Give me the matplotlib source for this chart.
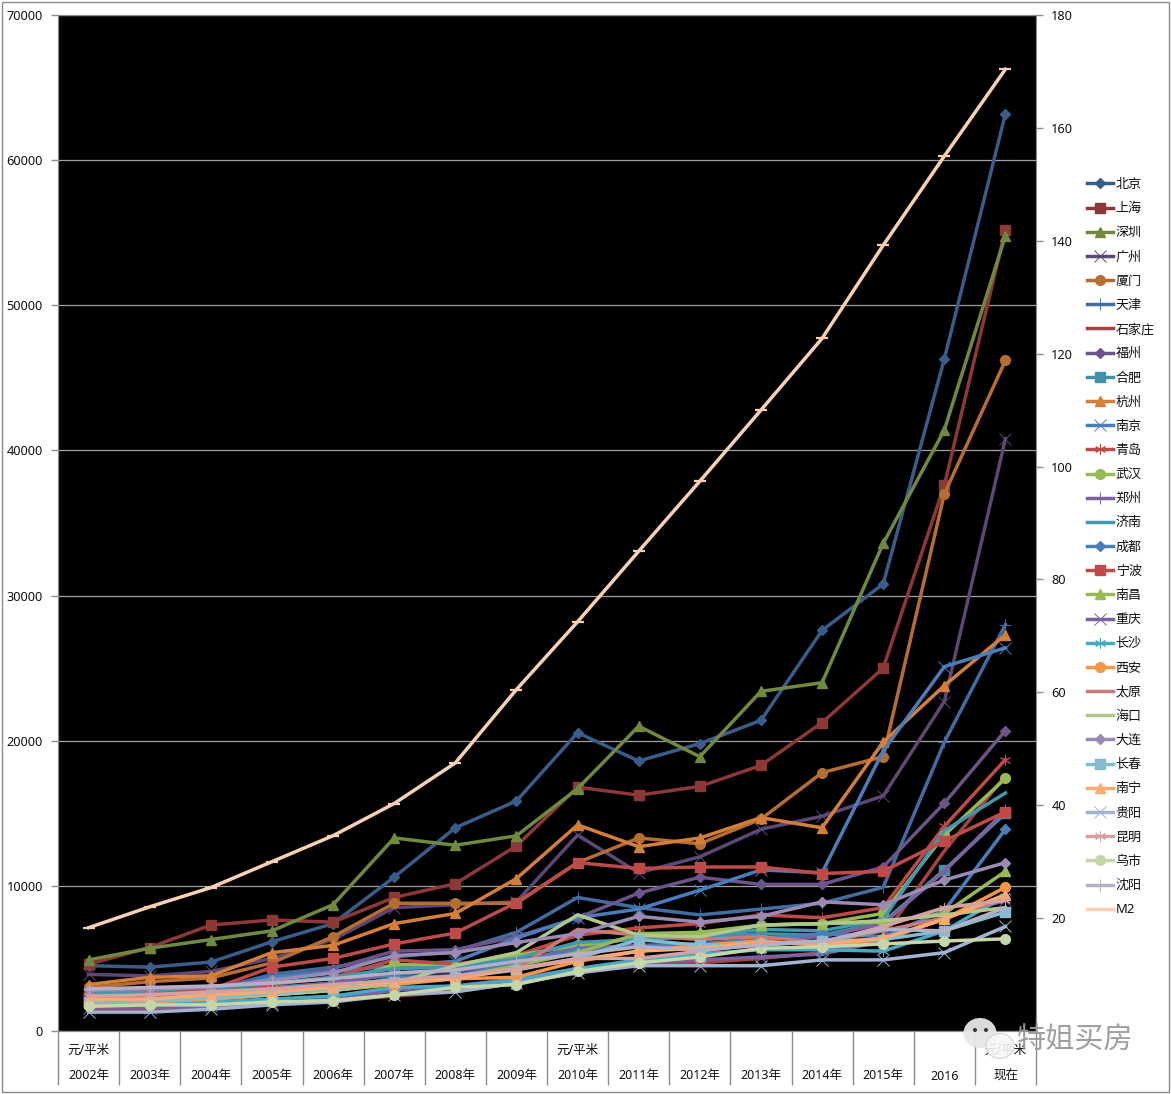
import matplotlib
matplotlib.use('Agg')
import matplotlib.pyplot as plt
from matplotlib.patches import Rectangle, Ellipse

plt.rcParams['font.family'] = ['Noto Sans', 'Noto Sans CJK SC']

W = 1171
H = 1094

years = ['2002年', '2003年', '2004年', '2005年', '2006年', '2007年', '2008年', '2009年',
         '2010年', '2011年', '2012年', '2013年', '2014年', '2015年', '2016', '现在']
unit_label = '元/平米'

beijing = [4500, 4400, 4750, 6150, 7400, 10600, 14000, 15850, 20550, 18600, 19800, 21400, 27600, 30800, 46300, 63200]
shanghai = [4600, 5750, 7300, 7650, 7500, 9200, 10150, 12750, 16800, 16250, 16850, 18300, 21250, 25000, 37600, 55200]
shenzhen = [4900, 5700, 6300, 6900, 8700, 13300, 12800, 13450, 16700, 21000, 18900, 23400, 24000, 33600, 41400, 54800]
guangzhou = [3900, 3800, 4100, 5000, 6300, 8500, 8700, 8900, 13500, 10900, 12000, 13900, 14800, 16200, 22700, 40800]
xiamen = [3000, 3400, 3650, 4700, 6500, 8800, 8800, 8800, 11600, 13300, 12900, 14600, 17800, 18900, 37000, 46200]
tianjin = [2500, 2600, 2800, 3900, 4400, 5100, 5500, 6800, 9200, 8500, 8000, 8400, 8800, 9900, 19900, 28000]
shijiazhuang = [1500, 1500, 1700, 1850, 2100, 2400, 2700, 3300, 4200, 4500, 4700, 5000, 5400, 6500, 12400, 17600]
fuzhou = [2900, 2900, 3000, 3600, 4300, 5500, 5600, 6500, 7800, 9500, 10600, 10100, 10100, 11300, 15700, 20700]
hefei = [2300, 2400, 2700, 3000, 3300, 3900, 4200, 4700, 5800, 6500, 6500, 6700, 6600, 7500, 11100, 15000]
hangzhou = [3200, 3700, 3800, 5400, 5900, 7400, 8100, 10500, 14200, 12700, 13300, 14700, 14000, 19900, 23800, 27300]
nanjing = [2300, 2400, 2700, 3700, 4100, 4500, 4800, 6400, 7800, 8400, 9700, 11100, 10900, 19300, 25100, 26400]
qingdao = [2500, 2600, 2900, 3200, 3700, 4900, 4600, 5200, 6600, 7100, 7400, 8000, 7800, 8500, 14100, 18700]
wuhan = [2000, 2100, 2300, 2700, 3100, 4600, 4400, 5200, 5900, 6400, 6600, 7300, 7400, 8100, 13500, 17400]
zhengzhou = [2300, 2300, 2500, 2900, 3300, 4000, 4100, 4800, 5700, 5900, 6000, 6300, 6500, 7400, 11000, 15200]
jinan = [2600, 2700, 2900, 3300, 3700, 4300, 4400, 5000, 6100, 6300, 6500, 7000, 6900, 7700, 13800, 16400]
chengdu = [2000, 2000, 2200, 2500, 2800, 3700, 3800, 4700, 5600, 5800, 6000, 6300, 6700, 6500, 8300, 13900]
ningbo = [2300, 2500, 2850, 4400, 5000, 6000, 6750, 8850, 11600, 11200, 11300, 11300, 10850, 11000, 13100, 15100]
nanchang = [1900, 2000, 2200, 2500, 2800, 3300, 3700, 4500, 5400, 6700, 6800, 7300, 7400, 7500, 8100, 11000]
chongqing = [1600, 1600, 1700, 1900, 2200, 2800, 3100, 3600, 4300, 4700, 4900, 5100, 5300, 6200, 7800, 9000]
changsha = [1800, 1800, 2000, 2200, 2400, 3000, 3100, 3500, 4300, 4900, 5300, 5600, 5600, 5500, 6900, 9300]
xian = [1900, 2000, 2200, 2500, 2800, 3200, 3600, 3700, 4800, 5500, 5900, 6200, 5900, 6300, 7700, 9900]
taiyuan = [2100, 2200, 2500, 2800, 3100, 3500, 3700, 4300, 7000, 6600, 6300, 6500, 6100, 6900, 7800, 9100]
haikou = [2100, 2100, 2300, 2500, 2800, 3300, 4500, 5400, 8000, 6600, 6500, 7300, 7400, 7600, 8000, 8500]
dalian = [2800, 2900, 3000, 3500, 4000, 5200, 5400, 6100, 6700, 7900, 7500, 7900, 8900, 8700, 10400, 11600]
changchun = [2000, 2100, 2300, 2600, 2900, 3400, 3700, 4200, 5000, 6300, 5900, 6000, 6200, 6300, 6900, 8200]
nanning = [2200, 2200, 2500, 2700, 3000, 3400, 3600, 4300, 4900, 5500, 5700, 6100, 6000, 6400, 7700, 9400]
guiyang = [1300, 1300, 1500, 1800, 2000, 2500, 2700, 3300, 4000, 4500, 4500, 4500, 4900, 4900, 5400, 7200]
kunming = [2400, 2500, 2700, 2900, 3200, 3500, 3800, 4300, 5000, 5000, 5500, 6000, 6100, 7200, 8500, 9000]
wushi = [1700, 1800, 1800, 2000, 2100, 2500, 3000, 3200, 4100, 4700, 5100, 5700, 5800, 6000, 6200, 6350]
shenyang = [2900, 3000, 3100, 3300, 3600, 4000, 4200, 4800, 5300, 5800, 5600, 5900, 6200, 7000, 6900, 8500]
m2 = [18.3, 22, 25.4, 30, 34.6, 40.3, 47.5, 60.5, 72.5, 85, 97.4, 110, 122.7, 139.2, 155, 170.4]

cities = ['北京', '上海', '深圳', '广州', '厦门', '天津', '石家庄', '福州', '合肥', '杭州',
          '南京', '青岛', '武汉', '郑州', '济南', '成都', '宁波', '南昌', '重庆', '长沙',
          '西安', '太原', '海口', '大连', '长春', '南宁', '贵阳', '昆明', '乌市', '沈阳']
prices = [beijing, shanghai, shenzhen, guangzhou, xiamen, tianjin, shijiazhuang, fuzhou, hefei, hangzhou,
          nanjing, qingdao, wuhan, zhengzhou, jinan, chengdu, ningbo, nanchang, chongqing, changsha,
          xian, taiyuan, haikou, dalian, changchun, nanning, guiyang, kunming, wushi, shenyang]

colors = ['#385D8A', '#8C3836', '#71893F', '#5C4776', '#B66D31', '#426DA1', '#A44340', '#6C548A', '#3F92A9', '#D37F3A',
          '#4A7EBB', '#BE4B48', '#98B954', '#7D60A0', '#4198AF', '#4A7EBB', '#BE4B48', '#98B954', '#7D60A0', '#46AAC5',
          '#F79646', '#C77C7A', '#B1C88C', '#9B8BB4', '#83BBCF', '#FAAB73', '#A1B3D2', '#D3A3A1', '#C5D6A8', '#B6AFC6']
asterisk = (6, 2, 0)
markers = ['D', 's', '^', 'x', 'o', '+', 'None', 'D', 's', '^',
           'x', asterisk, 'o', '+', 'None', 'D', 's', '^', 'x', asterisk,
           'o', 'None', 'None', 'D', 's', '^', 'x', asterisk, 'o', '+']


def marker_style(m):
    if m == 'None':
        return 0, 0
    if m == 'D':
        return 5.5, 1.0
    if m in ('x', '+') or m == asterisk:
        return 8, 0.7
    return 7, 1.0


fig = plt.figure(figsize=(W / 100, H / 100), dpi=100, facecolor='white')
ax = fig.add_axes([58 / W, 1 - 1031 / H, (1036 - 58) / W, (1031 - 15) / H])
ax.set_facecolor('black')
x = list(range(len(years)))

lines = []
for name, vals, c, m in zip(cities, prices, colors, markers):
    ms, mew = marker_style(m)
    l, = ax.plot(x, vals, color=c, lw=2.5, marker=m, ms=ms, mew=mew,
                 mec=c, mfc=c, label=name, zorder=3)
    lines.append(l)

ax.set_xlim(-0.5, len(years) - 0.5)
ax.set_ylim(0, 70000)
ax.set_yticks(range(0, 70001, 10000))
ax.yaxis.grid(True, color='#A0A0A0', lw=0.9)
ax.set_axisbelow(True)

# two rows of category labels, unit only on some of the columns
tick_labels = []
for i, y in enumerate(years):
    top = unit_label if i in (0, 8, 15) else ''
    tick_labels.append(top + '\n\n' + y)
ax.set_xticks(x)
ax.set_xticklabels(tick_labels, fontsize=9, linespacing=1.0, color='#111111')
ax.tick_params(axis='x', which='major', length=0, pad=9)
ax.set_xticks([i - 0.5 for i in range(len(years) + 1)], minor=True)
ax.tick_params(axis='x', which='minor', length=39, width=1, color='#8C8C8C')
ax.tick_params(axis='y', length=5, width=1, color='#8C8C8C', labelsize=9.2, labelcolor='#111111', pad=6)
for s in ax.spines.values():
    s.set_color('#8C8C8C')

ax2 = ax.twinx()
m2_line, = ax2.plot(x, m2, color='#FBD0B2', lw=2.5, marker='_', ms=8, mew=1.6, label='M2', zorder=4)
ax2.set_ylim(0, 180)
ax2.set_yticks(range(20, 181, 20))
ax2.tick_params(axis='y', length=5, width=1, color='#8C8C8C', labelsize=9.2, labelcolor='#111111', pad=6)
for s in ax2.spines.values():
    s.set_color('#8C8C8C')

handles = lines + [m2_line]
fig.legend(handles=handles, loc='upper left', bbox_to_anchor=(1087 / W, 1 - 178 / H),
           bbox_transform=fig.transFigure, frameon=False, numpoints=1, fontsize=9.4,
           labelspacing=0.856, handlelength=2.0, handletextpad=0.2, labelcolor='#111111',
           borderpad=0, borderaxespad=0)

# chart outer frame
fig.add_artist(Rectangle((1.5 / W, 1 - 1092 / H), 1167.5 / W, 1090.5 / H, transform=fig.transFigure,
                         fill=False, ec='#8C8C8C', lw=1.0, zorder=1))


# watermark
def px(xp, yp):
    return xp / W, 1 - yp / H


bubble1 = Ellipse(px(980, 1033), 33 / W, 30 / H, transform=fig.transFigure, fc='#E6E6E6', ec='none', alpha=0.95, zorder=6)
bubble2 = Ellipse(px(1000, 1046), 28 / W, 25 / H, transform=fig.transFigure, fc='#F7F7F7', ec='#CFCFCF', lw=0.8, alpha=0.9, zorder=7)
fig.add_artist(bubble1)
fig.add_artist(bubble2)
for xp, yp in [(975, 1030), (986, 1030)]:
    fig.add_artist(Ellipse(px(xp, yp), 4 / W, 4 / H, transform=fig.transFigure, fc='#333333', ec='none', zorder=8))
fig.text(*px(1075, 1041), '特姐买房', fontsize=21, color='#9A9A9A', alpha=0.95, ha='center', va='center', zorder=9)

fig.savefig('out.png', dpi=100, facecolor='white')
